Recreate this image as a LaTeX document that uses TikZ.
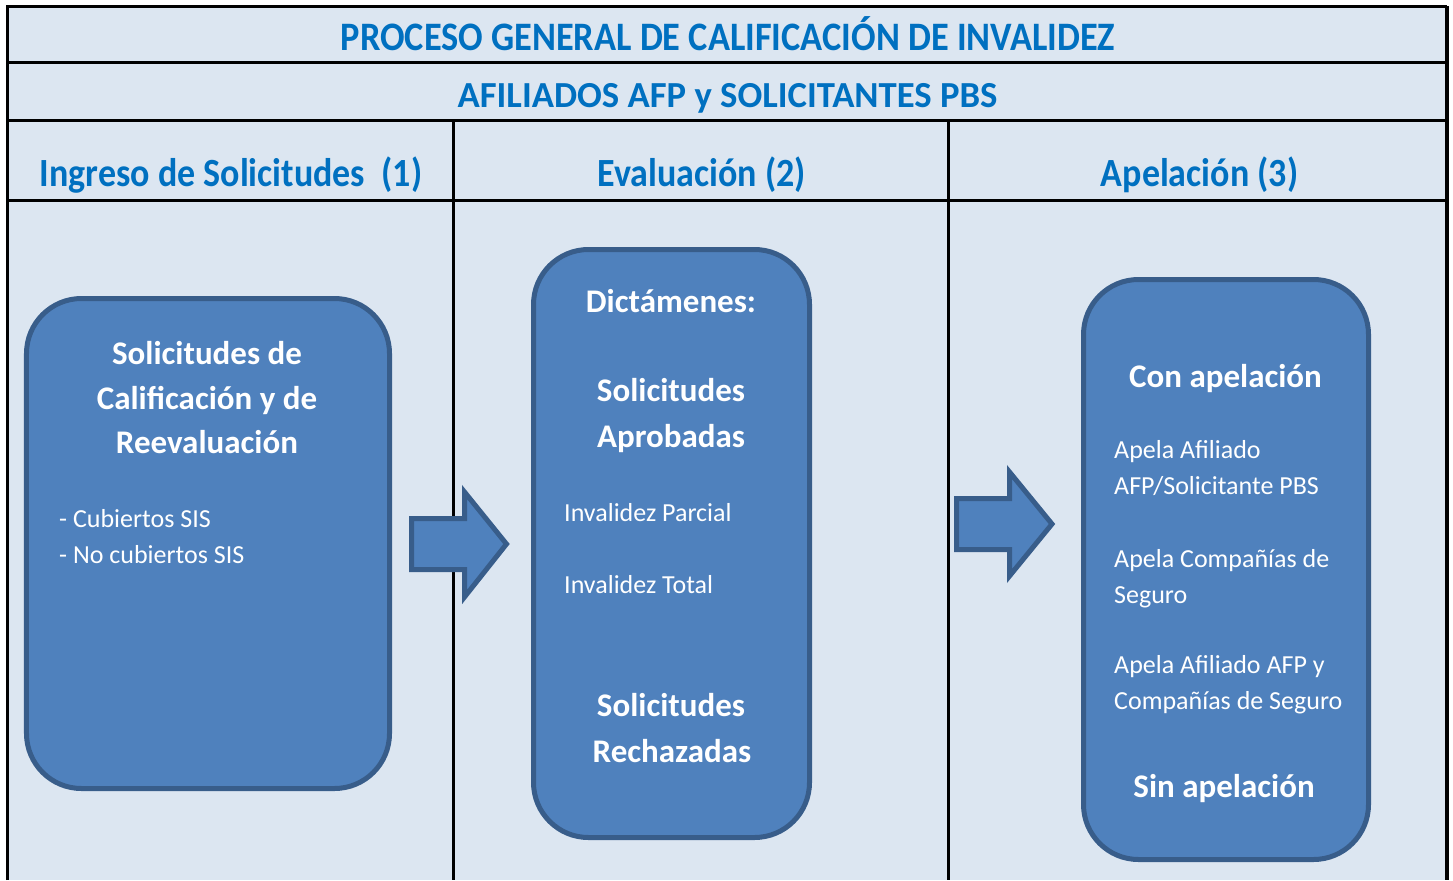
\documentclass[tikz,border=0pt]{standalone}
\usepackage{fontspec}
\setmainfont{Carlito}
\newfontfamily\hdfont{Carlito}[FakeStretch=0.9]
\definecolor{bgblue}{HTML}{DCE6F1}
\definecolor{titleblue}{HTML}{0070C0}
\definecolor{boxfill}{HTML}{4F81BD}
\definecolor{boxedge}{HTML}{385D8A}
\begin{document}
\begin{tikzpicture}[x=1bp,y=-1bp,
  frame/.style={line width=3bp,black},
  box/.style={draw=boxedge,fill=boxfill,line width=5bp,rounded corners=55bp,inner sep=0},
  blockarrow/.style={draw=boxedge,fill=boxfill,line width=5bp,line join=miter},
  ttl/.style={text=titleblue,anchor=base,inner sep=0,font=\hdfont\bfseries\fontsize{40.4bp}{48bp}\selectfont},
  sub/.style={text=titleblue,anchor=base,inner sep=0,font=\bfseries\fontsize{36.7bp}{43bp}\selectfont},
  colhead/.style={text=titleblue,anchor=base,inner sep=0,font=\hdfont\bfseries\fontsize{40bp}{48bp}\selectfont},
  bold/.style={text=white,anchor=base,inner sep=0,font=\bfseries\fontsize{33bp}{39bp}\selectfont},
  plain/.style={text=white,anchor=base west,inner sep=0,font=\fontsize{26bp}{31bp}\selectfont}]
\useasboundingbox (0,0) rectangle (1453,880);
% background and table frame
\fill[bgblue] (7,6) rectangle (1447,880);
\draw[frame] (7,880) -- (7,6) -- (1447,6);
\draw[line width=4bp] (1447,6) -- (1447,880);
\draw[frame] (7,62.5) -- (1447,62.5);
\draw[frame] (7,120.5) -- (1447,120.5);
\draw[frame] (7,200.5) -- (1447,200.5);
\draw[frame] (453.5,120.5) -- (453.5,880);
\draw[frame] (948.5,120.5) -- (948.5,880);
% headings
\node[ttl] (title) at (728,50) {PROCESO GENERAL DE CALIFICACIÓN DE INVALIDEZ};
\node[sub] (subtitle) at (727.5,107) {AFILIADOS AFP y SOLICITANTES PBS};
\node[colhead] (h1) at (231,186) {Ingreso de Solicitudes\ \ (1)};
\node[colhead] (h2) at (701.5,186) {Evaluación (2)};
\node[colhead] (h3) at (1199.5,186) {Apelación (3)};
% boxes
\node[box,minimum width=363bp,minimum height=490bp] (b1) at (208,543.5) {};
\node[box,minimum width=276bp,minimum height=588bp] (b2) at (671.5,543.5) {};
\node[box,minimum width=285bp,minimum height=580bp] (b3) at (1226,569.5) {};
% block arrows
\draw[blockarrow] (411.5,518.5) -- (464.5,518.5) -- (464.5,492) -- (506.5,544)
  -- (464.5,597) -- (464.5,569.5) -- (411.5,569.5) -- cycle;
\draw[blockarrow] (956.5,498.5) -- (1009.5,498.5) -- (1009.5,472) -- (1052,524)
  -- (1009.5,576) -- (1009.5,549.5) -- (956.5,549.5) -- cycle;
% box 1 text
\node[bold] (t11) at (207,364) {Solicitudes de};
\node[bold] (t12) at (207,409) {Calificación y de};
\node[bold] (t13) at (207,453) {Reevaluación};
\node[plain] (t14) at (59,527) {- Cubiertos SIS};
\node[plain] (t15) at (59,563) {- No cubiertos SIS};
% box 2 text
\node[bold] (t21) at (671,312) {Dictámenes:};
\node[bold] (t22) at (671,401) {Solicitudes};
\node[bold] (t23) at (671,447) {Aprobadas};
\node[plain] (t24) at (564,521) {Invalidez Parcial};
\node[plain] (t25) at (564,593) {Invalidez Total};
\node[bold] (t26) at (671,716) {Solicitudes};
\node[bold] (t27) at (672,762) {Rechazadas};
% box 3 text
\node[bold] (t31) at (1225.5,387) {Con apelación};
\node[plain] (t32) at (1114,458) {Apela Afiliado};
\node[plain] (t33) at (1114,494) {AFP/Solicitante PBS};
\node[plain] (t34) at (1114,567) {Apela Compañías de};
\node[plain] (t35) at (1114,603) {Seguro};
\node[plain] (t36) at (1114,673) {Apela Afiliado AFP y};
\node[plain] (t37) at (1114,709) {Compañías de Seguro};
\node[bold] (t38) at (1224,797) {Sin apelación};
\end{tikzpicture}
\end{document}
